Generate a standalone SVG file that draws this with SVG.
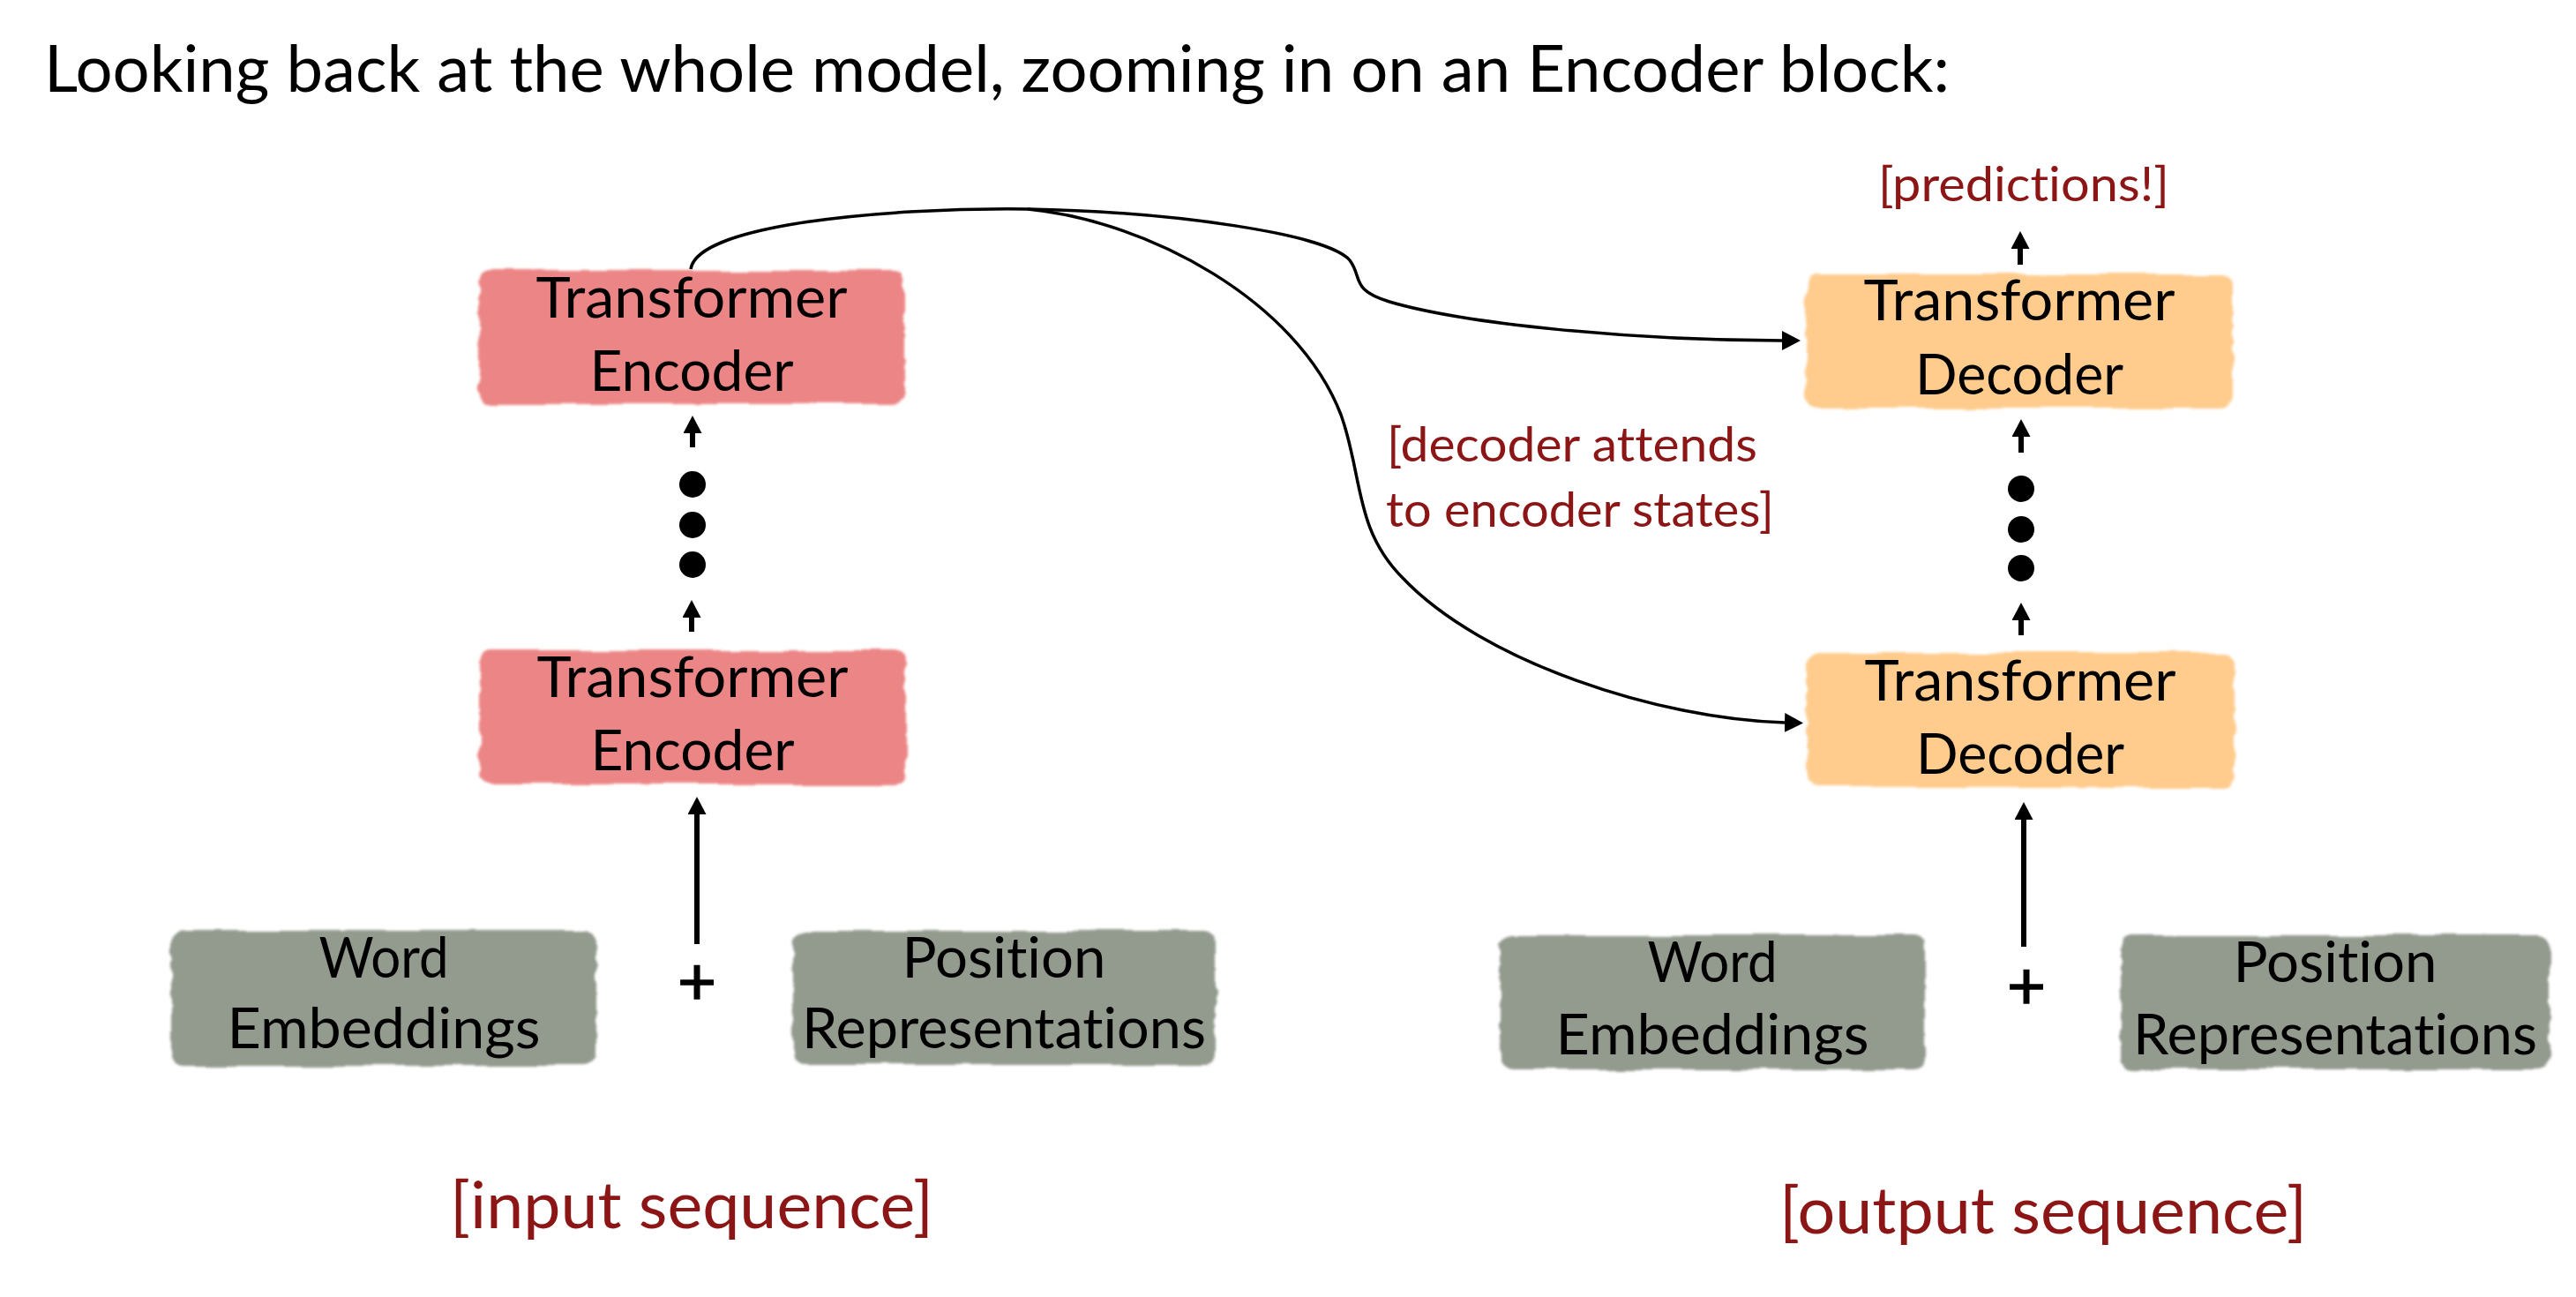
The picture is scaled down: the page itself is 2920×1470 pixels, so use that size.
<svg xmlns="http://www.w3.org/2000/svg" width="2920" height="1470" viewBox="0 0 2920 1470">
  <style>
    text { font-family: Lato, "Open Sans", "Liberation Sans", sans-serif; font-variant-ligatures: none; font-feature-settings: "liga" 0, "clig" 0, "dlig" 0; }
    .title { font-size: 74px; fill: #000; }
    .box { font-size: 64px; fill: #000; text-anchor: middle; }
    .red { fill: #8C1515; }
    .small { font-size: 55px; }
    .seq { font-size: 73px; text-anchor: middle; }
    .plus { font-size: 76px; fill: #000; stroke: #000; stroke-width: 1.5; text-anchor: middle; }
    .enc { fill: #EC8585; }
    .dec { fill: #FFCC8E; }
    .emb { fill: #939A8E; }
    .shaft { stroke: #000; stroke-width: 6; fill: none; }
    .curve { stroke: #000; stroke-width: 3.5; fill: none; }
    .dot { fill: #000; }
  </style>
  <defs>
    <filter id="rough" x="-5%" y="-10%" width="110%" height="120%">
      <feTurbulence type="fractalNoise" baseFrequency="0.015 0.06" numOctaves="2" seed="3" result="noise"/>
      <feDisplacementMap in="SourceGraphic" in2="noise" scale="9" xChannelSelector="R" yChannelSelector="G" result="d"/>
      <feGaussianBlur in="d" stdDeviation="1.6"/>
    </filter>
    <marker id="ah" markerUnits="userSpaceOnUse" markerWidth="22" markerHeight="22" refX="0" refY="11" orient="auto">
      <path d="M0,0 L21,11 L0,22 z" fill="#000"/>
    </marker>
    <marker id="ahs" markerUnits="userSpaceOnUse" markerWidth="22" markerHeight="22" refX="0" refY="10.5" orient="auto">
      <path d="M0,0 L20,10.5 L0,21 z" fill="#000"/>
    </marker>
  </defs>
  <rect width="2920" height="1470" fill="#fff"/>

  <text class="title" x="50" y="104" textLength="2160" lengthAdjust="spacingAndGlyphs">Looking back at the whole model, zooming in on an Encoder block:</text>

  <g id="enc-top">
    <rect class="enc" x="543" y="307" width="482" height="151" rx="14" filter="url(#rough)"/>
    <text class="box" x="784" y="360" textLength="353" lengthAdjust="spacingAndGlyphs">Transformer</text>
    <text class="box" x="784" y="443" textLength="231" lengthAdjust="spacingAndGlyphs">Encoder</text>
  </g>
  <g id="enc-bottom">
    <rect class="enc" x="544" y="737" width="483" height="152" rx="14" filter="url(#rough)"/>
    <text class="box" x="785" y="790" textLength="353" lengthAdjust="spacingAndGlyphs">Transformer</text>
    <text class="box" x="785" y="873" textLength="231" lengthAdjust="spacingAndGlyphs">Encoder</text>
  </g>
  <g id="dec-top">
    <rect class="dec" x="2047" y="311" width="484" height="152" rx="14" filter="url(#rough)"/>
    <text class="box" x="2289" y="363" textLength="353" lengthAdjust="spacingAndGlyphs">Transformer</text>
    <text class="box" x="2289" y="447" textLength="236" lengthAdjust="spacingAndGlyphs">Decoder</text>
  </g>
  <g id="dec-bottom">
    <rect class="dec" x="2048" y="740" width="485" height="152" rx="14" filter="url(#rough)"/>
    <text class="box" x="2290" y="794" textLength="353" lengthAdjust="spacingAndGlyphs">Transformer</text>
    <text class="box" x="2290" y="877" textLength="236" lengthAdjust="spacingAndGlyphs">Decoder</text>
  </g>
  <g id="word-emb-left">
    <rect class="emb" x="194" y="1055" width="482" height="152" rx="14" filter="url(#rough)"/>
    <text class="box" x="435" y="1108" textLength="147" lengthAdjust="spacingAndGlyphs">Word</text>
    <text class="box" x="435" y="1188" textLength="355" lengthAdjust="spacingAndGlyphs">Embeddings</text>
  </g>
  <g id="pos-rep-left">
    <rect class="emb" x="899" y="1055" width="479" height="152" rx="14" filter="url(#rough)"/>
    <text class="box" x="1138" y="1108" textLength="231" lengthAdjust="spacingAndGlyphs">Position</text>
    <text class="box" x="1138" y="1188" textLength="458" lengthAdjust="spacingAndGlyphs">Representations</text>
  </g>
  <g id="word-emb-right">
    <rect class="emb" x="1700" y="1060" width="482" height="152" rx="14" filter="url(#rough)"/>
    <text class="box" x="1941" y="1113" textLength="147" lengthAdjust="spacingAndGlyphs">Word</text>
    <text class="box" x="1941" y="1195" textLength="355" lengthAdjust="spacingAndGlyphs">Embeddings</text>
  </g>
  <g id="pos-rep-right">
    <rect class="emb" x="2404" y="1060" width="486" height="152" rx="14" filter="url(#rough)"/>
    <text class="box" x="2647" y="1113" textLength="231" lengthAdjust="spacingAndGlyphs">Position</text>
    <text class="box" x="2647" y="1195" textLength="458" lengthAdjust="spacingAndGlyphs">Representations</text>
  </g>

  <g id="plus-left"><text class="plus" x="790" y="1139">+</text></g>
  <g id="plus-right"><text class="plus" x="2297" y="1144">+</text></g>

  <g id="dots-left">
    <circle class="dot" cx="785" cy="549" r="15"/>
    <circle class="dot" cx="785" cy="595" r="15"/>
    <circle class="dot" cx="785" cy="640" r="15"/>
  </g>
  <g id="dots-right">
    <circle class="dot" cx="2291" cy="554" r="15"/>
    <circle class="dot" cx="2291" cy="600" r="15"/>
    <circle class="dot" cx="2291" cy="644" r="15"/>
  </g>

  <g id="labels">
    <text class="red small" x="2294" y="228" text-anchor="middle" textLength="330" lengthAdjust="spacingAndGlyphs">[predictions!]</text>
    <text class="red small" x="1572" y="523" textLength="420" lengthAdjust="spacingAndGlyphs">[decoder attends</text>
    <text class="red small" x="1571" y="597" textLength="440" lengthAdjust="spacingAndGlyphs">to encoder states]</text>
    <text class="red seq" x="784" y="1392" textLength="548" lengthAdjust="spacingAndGlyphs">[input sequence]</text>
    <text class="red seq" x="2316" y="1398" textLength="598" lengthAdjust="spacingAndGlyphs">[output sequence]</text>
  </g>

  <g id="connectors">
    <line class="shaft" x1="785" y1="507" x2="785" y2="491" marker-end="url(#ahs)"/>
    <line class="shaft" x1="784" y1="716" x2="784" y2="700" marker-end="url(#ahs)"/>
    <line class="shaft" x1="790" y1="1070" x2="790" y2="923" marker-end="url(#ahs)"/>
    <line class="shaft" x1="2290" y1="300" x2="2290" y2="282" marker-end="url(#ahs)"/>
    <line class="shaft" x1="2291" y1="513" x2="2291" y2="495" marker-end="url(#ahs)"/>
    <line class="shaft" x1="2291" y1="720" x2="2291" y2="703" marker-end="url(#ahs)"/>
    <line class="shaft" x1="2294" y1="1073" x2="2294" y2="929" marker-end="url(#ahs)"/>
    <path class="curve" d="M783,305 C790,255 1000,235 1165,237 C1330,240 1505,265 1530,295 C1545,315 1530,328 1575,342 C1660,367 1850,386 2020,386" marker-end="url(#ah)"/>
    <path class="curve" d="M1165,237 C1300,250 1470,340 1520,470 C1545,540 1535,600 1590,655 C1680,750 1880,815 2023,819" marker-end="url(#ah)"/>
  </g>
</svg>
